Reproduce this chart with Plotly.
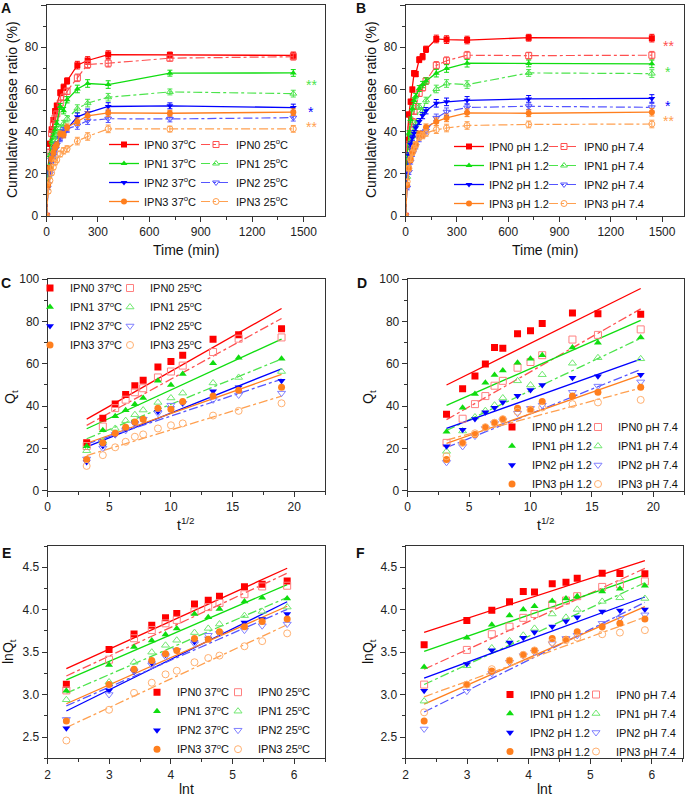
import numpy as np
import plotly.graph_objects as go

W, H = 685, 797
FONT = "Liberation Sans, Arial, sans-serif"

# ---------------- data ----------------
time_min = [0, 10, 20, 30, 40, 50, 60, 80, 100, 120, 180, 240, 360, 720, 1440]
gels = ["IPN0", "IPN1", "IPN2", "IPN3"]

# Panel A: temperature (cumulative release ratio, %)
rel_37C = {
    "IPN0": [0, 22.7, 34.2, 41.0, 45.5, 49.6, 52.2, 58.4, 61.0, 64.0, 71.5, 73.7, 76.5, 76.3, 76.1],
    "IPN1": [0, 21.0, 28.5, 35.2, 38.0, 40.8, 43.8, 51.9, 49.9, 55.1, 60.2, 62.8, 62.3, 67.7, 67.8],
    "IPN2": [0, 13.5, 21.1, 26.3, 29.1, 32.1, 33.8, 37.3, 38.9, 41.3, 47.0, 48.9, 51.9, 52.2, 51.4],
    "IPN3": [0, 14.7, 22.6, 27.1, 30.0, 32.5, 33.8, 38.9, 38.5, 42.1, 44.7, 47.5, 48.9, 48.7, 49.2],
}
rel_25C = {
    "IPN0": [0, 21.1, 30.3, 39.0, 43.0, 46.5, 48.4, 53.5, 56.3, 59.1, 65.5, 71.8, 72.4, 74.8, 75.5],
    "IPN1": [0, 18.9, 23.3, 29.4, 33.1, 35.9, 38.1, 41.7, 43.8, 46.1, 50.9, 53.5, 56.3, 58.8, 58.0],
    "IPN2": [0, 15.0, 20.1, 26.6, 28.5, 31.5, 33.8, 36.6, 40.4, 41.3, 42.9, 45.2, 46.1, 46.0, 46.6],
    "IPN3": [0, 11.7, 16.8, 20.5, 23.1, 25.5, 26.6, 29.4, 30.9, 31.8, 35.5, 37.7, 41.3, 41.2, 41.3],
}
# Panel B: pH
rel_pH12 = {
    "IPN0": [0, 36.1, 48.1, 54.2, 59.9, 67.6, 67.3, 74.1, 75.5, 79.0, 83.9, 83.6, 83.4, 84.5, 84.3],
    "IPN1": [0, 27.8, 39.2, 45.7, 51.0, 54.7, 56.8, 60.4, 62.3, 64.0, 67.7, 69.9, 72.4, 72.3, 72.1],
    "IPN2": [0, 21.0, 28.8, 33.9, 37.1, 39.2, 41.8, 44.8, 47.6, 49.9, 53.4, 54.1, 54.8, 55.5, 55.7],
    "IPN3": [0, 14.7, 22.6, 26.5, 30.0, 32.1, 33.8, 38.9, 38.5, 42.1, 44.7, 46.5, 48.9, 48.7, 49.2],
}
rel_pH74 = {
    "IPN0": [0, 22.6, 34.0, 40.9, 44.7, 49.6, 51.9, 58.1, 60.8, 64.0, 71.4, 73.6, 76.2, 76.0, 76.2],
    "IPN1": [0, 18.6, 28.2, 34.8, 37.8, 40.4, 43.8, 51.9, 49.9, 54.8, 60.2, 62.8, 62.3, 67.8, 67.5],
    "IPN2": [0, 13.4, 20.9, 25.8, 29.4, 31.8, 33.1, 36.6, 38.9, 40.4, 46.5, 49.4, 51.4, 52.0, 51.5],
    "IPN3": [0, 16.3, 22.6, 27.1, 30.0, 32.1, 33.8, 37.3, 38.1, 39.3, 40.9, 41.7, 42.9, 43.4, 43.6],
}
err_A = [0, 1.0, 1.2, 1.2, 1.2, 1.3, 1.3, 1.4, 1.5, 1.5, 1.8, 1.8, 1.8, 1.4, 1.6]
err_B = [0, 1.0, 1.2, 1.2, 1.2, 1.3, 1.3, 1.4, 1.5, 1.5, 1.8, 1.8, 1.8, 1.6, 1.8]

# fitting window (10-360 min)
fit_start, fit_end = 1, 13

col_main = {"IPN0": "#FF0000", "IPN1": "#10DD10", "IPN2": "#0000FF", "IPN3": "#FF7F1E"}
col_alt = {"IPN0": "#FF5050", "IPN1": "#4CE44C", "IPN2": "#5555FF", "IPN3": "#FFA050"}
col_open = {"IPN0": "#FF8080", "IPN1": "#70E870", "IPN2": "#8080FF", "IPN3": "#FFB070"}
sym = {"IPN0": "square", "IPN1": "triangle-up", "IPN2": "triangle-down", "IPN3": "circle"}

# ---------------- layout geometry (pixels) ----------------
dom = {
    1: ((46.5, 325.0), (5.0, 216.0)),
    2: ((405.5, 683.5), (5.0, 216.0)),
    3: ((47.7, 325.0), (279.0, 490.7)),
    4: ((407.7, 684.0), (279.0, 490.7)),
    5: ((47.7, 325.0), (546.0, 758.3)),
    6: ((405.5, 682.7), (546.0, 758.3)),
}
def fx(p):
    return p / W
def fy(p):
    return 1 - p / H

fig = go.Figure()

def ax_names(i):
    return ("x" if i == 1 else f"x{i}"), ("y" if i == 1 else f"y{i}")

# ---------- A & B : release profiles ----------
def add_release(i, main, alt, err, lab_main, lab_alt, legA, legB):
    xa, ya = ax_names(i)
    for g in gels:
        fig.add_trace(go.Scatter(
            x=time_min, y=main[g], xaxis=xa, yaxis=ya, mode="lines+markers",
            name=f"{g} {lab_main}", legend=legA,
            line=dict(color=col_main[g], width=1.3),
            marker=dict(symbol=sym[g], size=6, color=col_main[g]),
            error_y=dict(type="data", array=err, color=col_main[g], thickness=1, width=2.5),
        ))
        fig.add_trace(go.Scatter(
            x=time_min, y=alt[g], xaxis=xa, yaxis=ya, mode="lines+markers",
            name=f"{g} {lab_alt}", legend=legB,
            line=dict(color=col_alt[g], width=1.2, dash="dashdot"),
            marker=dict(symbol=sym[g] + "-open", size=6, color=col_alt[g], line=dict(width=1)),
            error_y=dict(type="data", array=err, color=col_alt[g], thickness=1, width=2.5),
        ))

add_release(1, rel_37C, rel_25C, err_A, "37<sup>o</sup>C", "25<sup>o</sup>C", "legend", "legend2")
add_release(2, rel_pH12, rel_pH74, err_B, "pH 1.2", "pH 7.4", "legend3", "legend4")

# ---------- C-F : kinetic models ----------
t_fit = np.array(time_min[fit_start:fit_end], dtype=float)

def add_model(i, main, alt, lab_main, lab_alt, legA, legB, kind):
    xa, ya = ax_names(i)
    if kind == "sqrt":
        xv = np.sqrt(t_fit)
        tr = lambda q: np.array(q[fit_start:fit_end], dtype=float)
    else:
        xv = np.log(t_fit)
        tr = lambda q: np.log(np.array(q[fit_start:fit_end], dtype=float))
    xl = np.array([xv.min(), xv.max()])
    # fit lines
    for g in gels:
        for data, colr, dash in ((main, col_main[g], "solid"), (alt, col_alt[g], "dashdot")):
            yv = tr(data[g])
            k, b = np.polyfit(xv, yv, 1)
            fig.add_trace(go.Scatter(
                x=xl, y=k * xl + b, xaxis=xa, yaxis=ya, mode="lines",
                line=dict(color=colr, width=1.3, dash=dash), showlegend=False, hoverinfo="skip"))
    for g in gels:
        fig.add_trace(go.Scatter(
            x=xv, y=tr(main[g]), xaxis=xa, yaxis=ya, mode="markers",
            name=f"{g} {lab_main}", legend=legA,
            marker=dict(symbol=sym[g], size=7, color=col_main[g])))
        fig.add_trace(go.Scatter(
            x=xv, y=tr(alt[g]), xaxis=xa, yaxis=ya, mode="markers",
            name=f"{g} {lab_alt}", legend=legB,
            marker=dict(symbol=sym[g] + "-open", size=7, color=col_open[g], line=dict(width=1))))

add_model(3, rel_37C, rel_25C, "37<sup>o</sup>C", "25<sup>o</sup>C", "legend5", "legend6", "sqrt")
add_model(4, rel_pH12, rel_pH74, "pH 1.2", "pH 7.4", "legend7", "legend8", "sqrt")
add_model(5, rel_37C, rel_25C, "37<sup>o</sup>C", "25<sup>o</sup>C", "legend9", "legend10", "log")
add_model(6, rel_pH12, rel_pH74, "pH 1.2", "pH 7.4", "legend11", "legend12", "log")

# ---------------- axes ----------------
tickfont = dict(family=FONT, size=12, color="#222")
def axis_common():
    return dict(showline=True, linecolor="#333", linewidth=1, mirror=True, ticks="outside",
                ticklen=5, tickwidth=1, tickcolor="#333", showgrid=False, zeroline=False,
                tickfont=tickfont, automargin=False)

ax_spec = {
    1: dict(xr=[0, 1625], xd=300, xm=150, yr=[0, 100], yd=20, ym=10, yf=None),
    2: dict(xr=[0, 1625], xd=300, xm=150, yr=[0, 100], yd=20, ym=10, yf=None),
    3: dict(xr=[0, 22.5], xd=5, xm=2.5, yr=[0, 100], yd=20, ym=10, yf=None),
    4: dict(xr=[0, 22.5], xd=5, xm=2.5, yr=[0, 100], yd=20, ym=10, yf=None),
    5: dict(xr=[2, 6.5], xd=1, xm=0.5, yr=[2.25, 4.75], yd=0.5, ym=0.25, yf=".1f"),
    6: dict(xr=[2, 6.5], xd=1, xm=0.5, yr=[2.25, 4.75], yd=0.5, ym=0.25, yf=".1f"),
}
lay = {}
for i, s in ax_spec.items():
    (x0, x1), (y0, y1) = dom[i]
    xk = "xaxis" if i == 1 else f"xaxis{i}"
    yk = "yaxis" if i == 1 else f"yaxis{i}"
    xa, ya = ax_names(i)
    xd = axis_common()
    xd.update(domain=[fx(x0), fx(x1)], range=s["xr"], dtick=s["xd"], tick0=0, anchor=ya,
              minor=dict(ticks="outside", ticklen=3, tickcolor="#333", dtick=s["xm"], tick0=0))
    yd = axis_common()
    yd.update(domain=[fy(y1), fy(y0)], range=s["yr"], dtick=s["yd"], tick0=0, anchor=xa,
              minor=dict(ticks="outside", ticklen=3, tickcolor="#333", dtick=s["ym"], tick0=0))
    if s["yf"]:
        yd["tickformat"] = s["yf"]
    lay[xk] = xd
    lay[yk] = yd

# ---------------- legends ----------------
legfont = dict(family=FONT, size=11, color="#111")
leg_pos = {
    "legend": (104, 130), "legend2": (196, 130),
    "legend3": (449, 132), "legend4": (544, 132),
    "legend5": (30, 273.5), "legend6": (110, 273.5),
    "legend7": (492, 412.5), "legend8": (578, 412.5),
    "legend9": (137, 677.7), "legend10": (218, 677.7),
    "legend11": (490, 680), "legend12": (576, 680),
}
for k, (lx, ly) in leg_pos.items():
    lay[k] = dict(x=fx(lx), y=fy(ly), xanchor="left", yanchor="top", bgcolor="rgba(0,0,0,0)",
                  borderwidth=0, font=legfont, tracegroupgap=0, itemwidth=30)

# ---------------- annotations ----------------
ann = []
def txt(x, y, s, size=14, color="#111", bold=False, angle=0):
    ann.append(dict(x=fx(x), y=fy(y), xref="paper", yref="paper", text=(f"<b>{s}</b>" if bold else s),
                    showarrow=False, textangle=angle, xanchor="center", yanchor="middle",
                    font=dict(family=FONT, size=size, color=color)))

for lbl, (x, y) in {"A": (6, 8), "B": (361, 8), "C": (6, 283), "D": (362, 283), "E": (6, 553), "F": (361, 553)}.items():
    txt(x, y, lbl, size=14, bold=True)

txt(12, 110, "Cumulative release ratio (%)", angle=-90)
txt(371, 110, "Cumulative release ratio (%)", angle=-90)
txt(186, 250, "Time (min)")
txt(545, 250, "Time (min)")
txt(11, 397, "Q<sub>t</sub>", angle=-90)
txt(369, 397, "Q<sub>t</sub>", angle=-90)
txt(186, 524, "t<sup>1/2</sup>")
txt(546, 524, "t<sup>1/2</sup>")
txt(9, 652, "lnQ<sub>t</sub>", angle=-90)
txt(369, 652, "lnQ<sub>t</sub>", angle=-90)
txt(186, 789, "lnt")
txt(544, 789, "lnt")

# significance marks
sig = [
    (311, 85, "**", col_alt["IPN1"]), (311, 112, "*", col_main["IPN2"]), (311, 127, "**", col_alt["IPN3"]),
    (668, 46, "**", col_alt["IPN0"]), (668, 72, "*", col_alt["IPN1"]), (668, 106, "*", col_main["IPN2"]),
    (668, 121, "**", col_alt["IPN3"]),
]
for x, y, s, c in sig:
    txt(x, y, s, size=14, color=c)

fig.update_layout(
    width=W, height=H, autosize=False, margin=dict(l=0, r=0, t=0, b=0, autoexpand=False),
    paper_bgcolor="white", plot_bgcolor="white", annotations=ann,
    font=dict(family=FONT, color="#111"), **lay)

fig.write_html("out.html", config={"displayModeBar": False},
               post_script="document.body.style.margin='0';document.body.style.padding='0';")
